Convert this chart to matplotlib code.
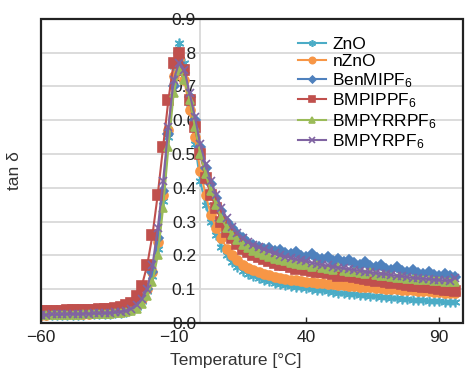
import matplotlib
matplotlib.use("Agg")
import matplotlib.pyplot as plt
from matplotlib.patches import Rectangle

plt.rcParams['font.family'] = ['Liberation Sans', 'DejaVu Sans']
plt.rcParams['mathtext.fontset'] = 'custom'
plt.rcParams['mathtext.rm'] = 'Liberation Sans'
plt.rcParams['mathtext.it'] = 'Liberation Sans'

# temperature grid [°C]
temp = [-60, -58, -56, -54, -52, -50, -48, -46, -44, -42,
        -40, -38, -36, -34, -32, -30, -28, -26, -24, -22,
        -20, -18, -16, -14, -12, -10, -8, -6, -4, -2,
        0, 2, 4, 6, 8, 10, 12, 14, 16, 18,
        20, 22, 24, 26, 28, 30, 32, 34, 36, 38,
        40, 42, 44, 46, 48, 50, 52, 54, 56, 58,
        60, 62, 64, 66, 68, 70, 72, 74, 76, 78,
        80, 82, 84, 86, 88, 90, 92, 94, 96]

zno = [0.022, 0.022, 0.022, 0.023, 0.023, 0.023, 0.024, 0.024, 0.024, 0.025,
       0.025, 0.026, 0.026, 0.027, 0.028, 0.030, 0.033, 0.038, 0.047, 0.065,
       0.095, 0.14, 0.22, 0.36, 0.55, 0.76, 0.83, 0.77, 0.65, 0.53,
       0.42, 0.35, 0.30, 0.26, 0.225, 0.20, 0.18, 0.165, 0.155, 0.145,
       0.14, 0.133, 0.127, 0.123, 0.119, 0.116, 0.113, 0.110, 0.107, 0.105,
       0.102, 0.100, 0.098, 0.096, 0.094, 0.092, 0.090, 0.088, 0.087, 0.085,
       0.083, 0.082, 0.080, 0.079, 0.077, 0.076, 0.074, 0.073, 0.072, 0.070,
       0.069, 0.068, 0.067, 0.066, 0.065, 0.064, 0.063, 0.062, 0.061]

nzno = [0.024, 0.024, 0.025, 0.025, 0.025, 0.026, 0.026, 0.026, 0.027, 0.027,
        0.028, 0.028, 0.029, 0.030, 0.031, 0.033, 0.036, 0.042, 0.052, 0.07,
        0.10, 0.15, 0.24, 0.38, 0.57, 0.73, 0.78, 0.72, 0.63, 0.55,
        0.45, 0.38, 0.32, 0.28, 0.25, 0.22, 0.20, 0.185, 0.172, 0.163,
        0.156, 0.150, 0.145, 0.141, 0.137, 0.134, 0.131, 0.128, 0.126, 0.124,
        0.122, 0.120, 0.118, 0.117, 0.115, 0.114, 0.112, 0.111, 0.110, 0.108,
        0.107, 0.106, 0.105, 0.104, 0.102, 0.101, 0.100, 0.099, 0.098, 0.097,
        0.096, 0.095, 0.094, 0.093, 0.092, 0.091, 0.090, 0.089, 0.088]

benmipf6 = [0.025, 0.025, 0.026, 0.026, 0.026, 0.027, 0.027, 0.027, 0.028, 0.028,
            0.029, 0.029, 0.030, 0.031, 0.032, 0.034, 0.037, 0.043, 0.053, 0.072,
            0.10, 0.15, 0.25, 0.39, 0.56, 0.70, 0.77, 0.74, 0.67, 0.60,
            0.52, 0.46, 0.41, 0.37, 0.33, 0.30, 0.28, 0.262, 0.25, 0.238,
            0.23, 0.225, 0.218, 0.222, 0.212, 0.215, 0.208, 0.204, 0.21, 0.198,
            0.196, 0.205, 0.192, 0.188, 0.194, 0.184, 0.19, 0.18, 0.186, 0.176,
            0.172, 0.18, 0.168, 0.165, 0.172, 0.16, 0.157, 0.165, 0.154, 0.15,
            0.156, 0.147, 0.145, 0.15, 0.142, 0.14, 0.144, 0.138, 0.136]

bmpippf6 = [0.035, 0.035, 0.036, 0.036, 0.036, 0.037, 0.037, 0.038, 0.038, 0.038,
            0.039, 0.040, 0.041, 0.042, 0.044, 0.047, 0.052, 0.06, 0.08, 0.11,
            0.17, 0.26, 0.38, 0.52, 0.66, 0.77, 0.80, 0.75, 0.66, 0.58,
            0.50, 0.43, 0.38, 0.34, 0.30, 0.27, 0.25, 0.235, 0.22, 0.21,
            0.20, 0.195, 0.19, 0.182, 0.178, 0.17, 0.172, 0.165, 0.16, 0.162,
            0.158, 0.155, 0.15, 0.152, 0.148, 0.145, 0.14, 0.142, 0.138, 0.135,
            0.133, 0.13, 0.128, 0.125, 0.127, 0.122, 0.118, 0.12, 0.115, 0.113,
            0.11, 0.108, 0.105, 0.106, 0.102, 0.1, 0.098, 0.096, 0.095]

bmpyrrpf6 = [0.022, 0.022, 0.023, 0.023, 0.023, 0.024, 0.024, 0.024, 0.025, 0.025,
             0.025, 0.026, 0.026, 0.027, 0.028, 0.029, 0.031, 0.035, 0.042, 0.055,
             0.08, 0.12, 0.20, 0.34, 0.52, 0.68, 0.75, 0.72, 0.66, 0.58,
             0.50, 0.44, 0.39, 0.35, 0.31, 0.28, 0.26, 0.245, 0.232, 0.222,
             0.214, 0.207, 0.2, 0.195, 0.19, 0.186, 0.182, 0.178, 0.175, 0.172,
             0.17, 0.166, 0.172, 0.163, 0.16, 0.158, 0.165, 0.154, 0.152, 0.15,
             0.148, 0.146, 0.15, 0.142, 0.14, 0.138, 0.136, 0.134, 0.132, 0.131,
             0.13, 0.128, 0.127, 0.126, 0.124, 0.123, 0.122, 0.121, 0.12]

bmpyrpf6 = [0.024, 0.024, 0.025, 0.025, 0.025, 0.026, 0.026, 0.026, 0.027, 0.027,
            0.028, 0.028, 0.029, 0.030, 0.031, 0.033, 0.036, 0.042, 0.052, 0.07,
            0.10, 0.17, 0.28, 0.42, 0.58, 0.72, 0.77, 0.75, 0.68, 0.61,
            0.53, 0.47, 0.42, 0.38, 0.34, 0.31, 0.285, 0.265, 0.25, 0.24,
            0.232, 0.225, 0.218, 0.212, 0.206, 0.2, 0.196, 0.192, 0.188, 0.185,
            0.182, 0.178, 0.175, 0.172, 0.17, 0.167, 0.164, 0.162, 0.16, 0.157,
            0.155, 0.152, 0.15, 0.148, 0.146, 0.144, 0.142, 0.14, 0.138, 0.136,
            0.134, 0.132, 0.131, 0.13, 0.128, 0.127, 0.126, 0.125, 0.133]

series = [
    ("ZnO", zno, "#4bacc6", (6, 2, 0), 7),
    ("nZnO", nzno, "#f79646", "o", 6.5),
    ("BenMIPF$_6$", benmipf6, "#4f81bd", "D", 5),
    ("BMPIPPF$_6$", bmpippf6, "#c0504d", "s", 6.5),
    ("BMPYRRPF$_6$", bmpyrrpf6, "#9bbb59", "^", 6),
    ("BMPYRPF$_6$", bmpyrpf6, "#8064a2", "x", 6),
]
yticks = [0.0, 0.1, 0.2, 0.3, 0.4, 0.5, 0.6, 0.7, 0.8, 0.9]
xticks = [-60, -10, 40, 90]

fig = plt.figure(figsize=(4.65, 3.79), dpi=100)
ax = fig.add_axes([0.088, 0.148, 0.908, 0.802])

for name, vals, col, mk, ms in series:
    ax.plot(temp, vals, color=col, marker=mk, markersize=ms, lw=1.5,
            mew=1.2, label=name, zorder=3)

ax.set_xlim(-60, 99)
ax.set_ylim(0, 0.9)
ax.set_xticks(xticks)
ax.set_yticks(yticks)
ax.set_yticklabels(["%.1f" % v for v in yticks])
ax.grid(axis="y", color="#d9d9d9", lw=1.3, zorder=0)

# y axis drawn at 0 °C, box frame around the plot
ax.spines["left"].set_position(("data", 0))
ax.spines["left"].set_color("#d9d9d9")
ax.spines["left"].set_linewidth(1.3)
for s in ["top", "right", "bottom"]:
    ax.spines[s].set_visible(False)
ax.add_patch(Rectangle((0, 0), 1, 1, transform=ax.transAxes, fill=False,
                       ec="#222222", lw=1.6, clip_on=False, zorder=5))

ax.tick_params(axis="y", length=0, pad=3, labelsize=12.5, colors="#222222")
ax.tick_params(axis="x", direction="in", length=4, width=1, pad=5,
               labelsize=12.5, colors="#222222")
for lab in ax.get_yticklabels():
    lab.set_zorder(6)

ax.set_xlabel("Temperature [°C]", fontsize=12.5, color="#333333")
ax.xaxis.set_label_coords(0.462, -0.1)
ax.set_ylabel("tan δ", fontsize=12.5, color="#333333")
ax.yaxis.set_label_coords(-0.045, 0.5)

ax.legend(loc="upper left", bbox_to_anchor=(0.61, 0.94), frameon=False,
          fontsize=12.5, handlelength=1.6, handletextpad=0.35,
          labelspacing=0.1, borderpad=0, borderaxespad=0, markerscale=0.7)

fig.savefig("out.png", dpi=100)
